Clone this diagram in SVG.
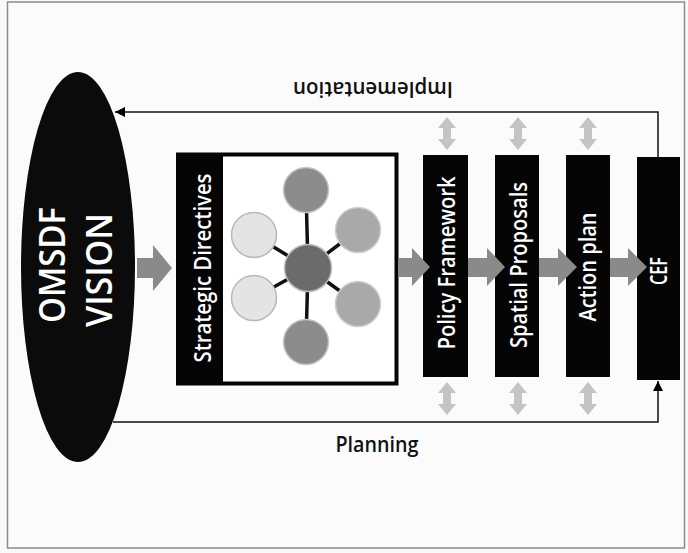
<svg xmlns="http://www.w3.org/2000/svg" width="688" height="553" viewBox="0 0 688 553">
  <defs>
    <marker id="tri" viewBox="0 0 10 10" refX="10" refY="5" markerWidth="10" markerHeight="10" markerUnits="userSpaceOnUse" orient="auto">
      <path d="M0,0 L10,5 L0,10 Z" fill="#000"/>
    </marker>
    <style>
      .lbl { font-family: "Open Sans", "Liberation Sans", sans-serif; fill: #fff; font-weight: 600; }
      .dark { font-family: "Open Sans", "Liberation Sans", sans-serif; fill: #111; font-weight: 600; }
      .box { fill: #050505; }
      .blk { fill: #8a8a8a; }
      .dbl { fill: #c4c4c4; }
      .conn { fill: none; stroke: #111; stroke-width: 1.5; }
      .spoke { stroke: #111; stroke-width: 3.5; }
    </style>
  </defs>
  <rect x="0" y="0" width="688" height="553" fill="#f9f9f9"/>
  <rect x="7.5" y="2" width="677" height="546" fill="#fbfbfb" stroke="#8c8c8c" stroke-width="1.5"/>

  <g id="vision">
    <ellipse cx="78" cy="267" rx="57" ry="195" fill="#0b0b0b"/>
    <text class="lbl" font-size="36" text-anchor="middle" textLength="116" lengthAdjust="spacingAndGlyphs" transform="translate(65,265) rotate(-90)">OMSDF</text>
    <text class="lbl" font-size="36" text-anchor="middle" textLength="114" lengthAdjust="spacingAndGlyphs" transform="translate(112,270) rotate(-90)">VISION</text>
  </g>

  <g id="strategic-directives">
    <rect x="178" y="154.5" width="218.5" height="229" fill="#fff" stroke="#050505" stroke-width="4"/>
    <rect x="177" y="153" width="46" height="232" class="box"/>
    <text class="lbl" font-size="24" text-anchor="middle" textLength="189" lengthAdjust="spacingAndGlyphs" transform="translate(211,268) rotate(-90)">Strategic Directives</text>
    <g id="hub">
      <line class="spoke" x1="308" y1="268" x2="306" y2="190"/>
      <line class="spoke" x1="308" y1="268" x2="306" y2="342"/>
      <line class="spoke" x1="308" y1="268" x2="358" y2="230"/>
      <line class="spoke" x1="308" y1="268" x2="358" y2="304"/>
      <line class="spoke" x1="308" y1="268" x2="254" y2="235"/>
      <line class="spoke" x1="308" y1="268" x2="254" y2="298"/>
      <circle cx="306" cy="190" r="22.5" fill="#8c8c8c" stroke="#c8c8c8" stroke-width="1.5"/>
      <circle cx="306" cy="342" r="22.5" fill="#8c8c8c" stroke="#c8c8c8" stroke-width="1.5"/>
      <circle cx="358" cy="230" r="22.5" fill="#a9a9a9" stroke="#cfcfcf" stroke-width="1.5"/>
      <circle cx="358" cy="304" r="22.5" fill="#a9a9a9" stroke="#cfcfcf" stroke-width="1.5"/>
      <circle cx="254" cy="235" r="22.5" fill="#e4e4e4" stroke="#b8b8b8" stroke-width="1.5"/>
      <circle cx="254" cy="298" r="22.5" fill="#e4e4e4" stroke="#b8b8b8" stroke-width="1.5"/>
      <circle cx="308" cy="268" r="23.5" fill="#6b6b6b" stroke="#bdbdbd" stroke-width="1.5"/>
    </g>
  </g>

  <g id="policy-framework">
    <rect x="423" y="155" width="45" height="222" class="box"/>
    <text class="lbl" font-size="23" text-anchor="middle" textLength="173" lengthAdjust="spacingAndGlyphs" transform="translate(455,263) rotate(-90)">Policy Framework</text>
  </g>
  <g id="spatial-proposals">
    <rect x="495" y="155" width="44" height="222" class="box"/>
    <text class="lbl" font-size="23" text-anchor="middle" textLength="166" lengthAdjust="spacingAndGlyphs" transform="translate(527,265) rotate(-90)">Spatial Proposals</text>
  </g>
  <g id="action-plan">
    <rect x="566" y="155" width="44" height="222" class="box"/>
    <text class="lbl" font-size="23" text-anchor="middle" textLength="109" lengthAdjust="spacingAndGlyphs" transform="translate(596,267) rotate(-90)">Action plan</text>
  </g>
  <g id="cef">
    <rect x="637" y="157" width="43" height="223" class="box"/>
    <text class="lbl" font-size="23" text-anchor="middle" textLength="28" lengthAdjust="spacingAndGlyphs" transform="translate(667,271) rotate(-90)">CEF</text>
  </g>

  <g id="connectors">
    <polygon class="blk" points="137,258 153,258 153,245 172,268 153,291 153,278 137,278"/>
    <polygon class="blk" points="398,258 412,258 412,248 430,267 412,286 412,277 398,277"/>
    <polygon class="blk" points="468,258 487,258 487,248 505,267 487,286 487,277 468,277"/>
    <polygon class="blk" points="539,258 558,258 558,248 577,267 558,286 558,277 539,277"/>
    <polygon class="blk" points="610,258 628,258 628,248 647,267 628,286 628,277 610,277"/>

    <polygon class="dbl" points="447,117 456,128 451,128 451,139 456,139 447,150 438,139 443,139 443,128 438,128"/>
    <polygon class="dbl" points="518,117 527,128 522,128 522,139 527,139 518,150 509,139 514,139 514,128 509,128"/>
    <polygon class="dbl" points="588,117 597,128 592,128 592,139 597,139 588,150 579,139 584,139 584,128 579,128"/>
    <polygon class="dbl" points="447,382 456,393 451,393 451,404 456,404 447,415 438,404 443,404 443,393 438,393"/>
    <polygon class="dbl" points="518,382 527,393 522,393 522,404 527,404 518,415 509,404 514,404 514,393 509,393"/>
    <polygon class="dbl" points="588,382 597,393 592,393 592,404 597,404 588,415 579,404 584,404 584,393 579,393"/>

    <path class="conn" d="M658,157 V112 H115" marker-end="url(#tri)"/>
    <path class="conn" d="M113,422 H658 V381" marker-end="url(#tri)"/>
    <text class="dark" font-size="22" text-anchor="middle" textLength="160" lengthAdjust="spacingAndGlyphs" transform="rotate(180 373 87)" x="373" y="92">Implementation</text>
    <text class="dark" font-size="22" text-anchor="middle" textLength="83" lengthAdjust="spacingAndGlyphs" x="377" y="452">Planning</text>
  </g>
</svg>
